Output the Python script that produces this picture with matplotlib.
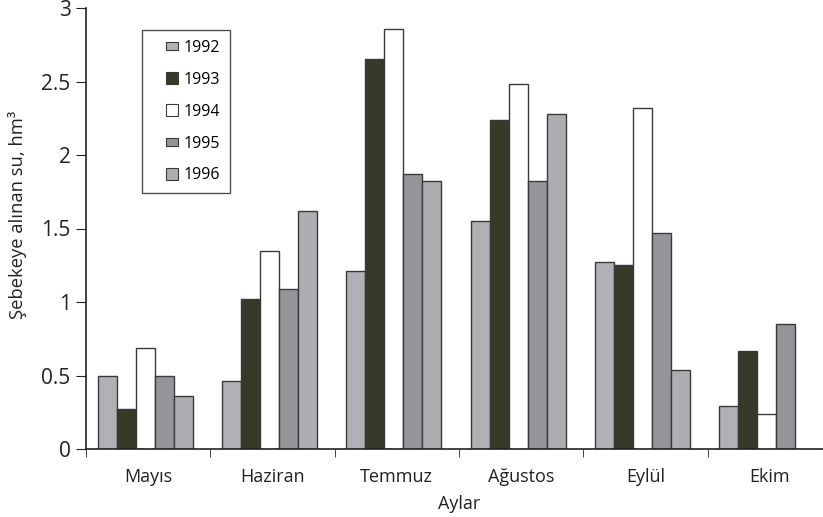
import numpy as np
import matplotlib
matplotlib.use('Agg')
import matplotlib.pyplot as plt
from matplotlib.lines import Line2D
from matplotlib.path import Path

plt.rcParams['font.family'] = ['Open Sans', 'DejaVu Sans']

# Monthly water supplied to the network (hm3)
months = ['Mayıs', 'Haziran', 'Temmuz', 'Ağustos', 'Eylül', 'Ekim']
years = ['1992', '1993', '1994', '1995', '1996']
v1992 = [0.50, 0.46, 1.21, 1.55, 1.27, 0.29]
v1993 = [0.27, 1.02, 2.65, 2.24, 1.25, 0.67]
v1994 = [0.69, 1.35, 2.86, 2.48, 2.32, 0.24]
v1995 = [0.50, 1.09, 1.87, 1.82, 1.47, 0.85]
v1996 = [0.36, 1.62, 1.82, 2.28, 0.54, 0.0]
colors = ['#b0b1b5', '#363a28', '#ffffff', '#949599', '#adaeb2']

series = [v1992, v1993, v1994, v1995, v1996]

fig = plt.figure(figsize=(8.23, 5.17), dpi=100)
# axis runs a bit past the right edge of the image, like the original
ax = fig.add_axes([86 / 823, 1 - 449 / 517, (832 - 86) / 823, (449 - 8) / 517])

x = np.arange(len(months))
w = 0.153
shift = -0.025
for i, (vals, c, yr) in enumerate(zip(series, colors, years)):
    ax.bar(x + shift + (i - 2) * w, vals, width=w, color=c, edgecolor='#3a3a3a',
           linewidth=1.0, label=yr)

ax.set_xlim(-0.5, 5.5)
ax.set_ylim(0, 3)
ax.set_yticks([0, 0.5, 1, 1.5, 2, 2.5, 3])
ax.set_yticklabels(['0', '0.5', '1', '1.5', '2', '2.5', '3'], fontsize=15, color='#222222')
ax.set_xticks(x)
ax.set_xticklabels(months, fontsize=13, color='#222222')
ax.tick_params(axis='x', which='major', length=0, pad=14)
ax.set_xticks(np.arange(len(months)) - 0.5, minor=True)
ax.tick_params(axis='x', which='minor', length=6, direction='out', color='#222222')
ax.tick_params(axis='y', length=7, direction='out', color='#222222', pad=4)

for s in ['top', 'right']:
    ax.spines[s].set_visible(False)
ax.spines['left'].set_color('#222222')
ax.spines['bottom'].set_color('#222222')
ax.spines['left'].set_linewidth(1.2)
ax.spines['bottom'].set_linewidth(1.2)

ax.set_xlabel('Aylar', fontsize=13, color='#222222', labelpad=6)
ax.set_ylabel('Şebekeye alınan su, hm³', fontsize=13.2, color='#222222')
ax.yaxis.set_label_coords((27 - 86) / 746, (449 - 215) / 441)

# legend keys: small squares, 1992 and 1995 drawn as flatter boxes
wide = Path([(-1, -0.6), (1, -0.6), (1, 0.6), (-1, 0.6), (-1, -0.6)])
markers = [wide, 's', 's', wide, 's']
sizes = [9, 8, 8, 9, 8]
handles = [Line2D([], [], linestyle='none', marker=m, markersize=ms,
                  markerfacecolor=c, markeredgecolor='#3a3a3a', markeredgewidth=0.8)
           for m, ms, c in zip(markers, sizes, colors)]
leg = ax.legend(handles, years, loc='upper left',
                bbox_to_anchor=(142 / 823, 1 - 30 / 517),
                bbox_transform=fig.transFigure, fontsize=11.5, frameon=True,
                fancybox=False, edgecolor='#222222', handlelength=2.6,
                labelspacing=1.0, borderpad=0.6, numpoints=1,
                handletextpad=-0.6, borderaxespad=0)
leg.get_frame().set_linewidth(1.0)
leg.set_zorder(5)

fig.savefig('out.png', dpi=100)
